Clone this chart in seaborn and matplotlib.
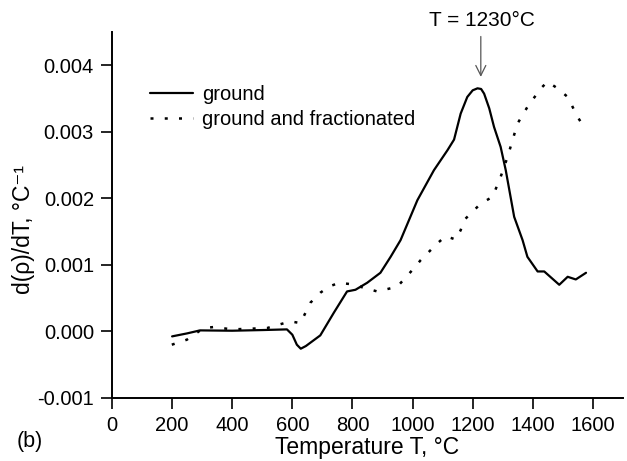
import numpy as np
import pandas as pd
import matplotlib
matplotlib.use("Agg")
import matplotlib.pyplot as plt
import seaborn as sns

# ground (solid)
t_ground = [200, 250, 293, 400, 500, 582, 600, 615, 628, 645, 693, 738, 782, 810, 849, 893,
            927, 960, 1016, 1071, 1116, 1138, 1160, 1182, 1200, 1216, 1228, 1238, 1255,
            1271, 1293, 1310, 1338, 1366, 1382, 1416, 1438, 1488, 1516, 1543, 1577]
v_ground = [-0.000075, -0.00003, 0.000015, 0.00001, 0.00002, 0.00003, -0.00005, -0.0002,
            -0.00026, -0.00022, -0.00006, 0.00028, 0.0006, 0.000625, 0.00073, 0.00088,
            0.00112, 0.00137, 0.00197, 0.00242, 0.00272, 0.00288, 0.00327, 0.00352,
            0.00362, 0.00365, 0.00364, 0.00357, 0.00335, 0.00307, 0.00277, 0.00242,
            0.00172, 0.00137, 0.00112, 0.0009, 0.0009, 0.0007, 0.00082, 0.00078, 0.00088]

# ground and fractionated (dotted)
t_frac = [199, 249, 305, 338, 400, 516, 593, 627, 660, 693, 721, 755, 793, 843, 882, 949,
          999, 1027, 1082, 1110, 1143, 1160, 1171, 1227, 1266, 1293, 1316, 1349, 1382,
          1427, 1449, 1482, 1516, 1549, 1566]
v_frac = [-0.0002, -0.000125, 0.00005, 0.000065, 0.00003, 0.00005, 0.00015, 0.000125,
          0.00043, 0.00058, 0.00067, 0.00073, 0.00071, 0.00065, 0.0006, 0.00067, 0.00092,
          0.00107, 0.00132, 0.00143, 0.00138, 0.00152, 0.00167, 0.00192, 0.00202, 0.00232,
          0.00262, 0.00312, 0.00337, 0.00365, 0.00375, 0.00365, 0.00352, 0.00322, 0.0031]

series_names = ["ground", "ground and fractionated"]
x_ticks = [0, 200, 400, 600, 800, 1000, 1200, 1400, 1600]
y_ticks = [-0.001, 0.000, 0.001, 0.002, 0.003, 0.004]
peak_T = 1230

sns.set_style("ticks")
plt.rcParams['font.family'] = ['Liberation Sans', 'DejaVu Sans']
plt.rcParams['text.color'] = 'black'
plt.rcParams['axes.labelcolor'] = 'black'
plt.rcParams['xtick.color'] = 'black'
plt.rcParams['ytick.color'] = 'black'

fig = plt.figure(figsize=(6.27, 4.61), dpi=100)
ax = fig.add_axes([0.1786, 0.1367, 0.815, 0.7945])

df1 = pd.DataFrame({"T": t_ground, "v": v_ground})
df2 = pd.DataFrame({"T": t_frac, "v": v_frac})
sns.lineplot(data=df1, x="T", y="v", ax=ax, sort=False, color="black", lw=1.6,
             label=series_names[0])
sns.lineplot(data=df2, x="T", y="v", ax=ax, sort=False, color="black", lw=1.8,
             linestyle=(0, (1.2, 4.5)), label=series_names[1])

ax.set_xlim(0, 1700)
ax.set_ylim(-0.001, 0.0045)
ax.set_xticks(x_ticks)
ax.set_yticks(y_ticks)
ax.set_yticklabels([f"{v:.3f}" for v in y_ticks])
ax.tick_params(direction="out", length=8, width=1.2, labelsize=14.5, pad=5,
               colors="black", labelcolor="black")
for s in ["top", "right"]:
    ax.spines[s].set_visible(False)
for s in ["left", "bottom"]:
    ax.spines[s].set_linewidth(1.4)
    ax.spines[s].set_color("black")

ax.set_xlabel("Temperature T, °C", fontsize=16.5, labelpad=1, color="black")
ax.set_ylabel("d(ρ)/dT, °C⁻¹", fontsize=16.5, color="black")
ax.yaxis.set_label_coords(-0.15, 0.46)

leg = ax.legend(loc="upper left", bbox_to_anchor=(0.075, 0.854), frameon=False,
                fontsize=14.5, handlelength=2.1, handletextpad=0.45, labelspacing=0.27,
                borderaxespad=0, borderpad=0)
for t in leg.get_texts():
    t.set_color("black")

ax.annotate("", xy=(peak_T - 3, 0.00378), xytext=(peak_T - 3, 0.00447),
            arrowprops=dict(arrowstyle="->", color="#555555", lw=0.9, mutation_scale=18),
            annotation_clip=False)
ax.text(peak_T, 0.00467, f"T = {peak_T}°C", ha="center", va="center", fontsize=15,
        clip_on=False, color="black")
fig.text(0.048, 0.043, "(b)", fontsize=15.5, ha="center", va="center", color="black")

fig.savefig("out.png", dpi=100)
